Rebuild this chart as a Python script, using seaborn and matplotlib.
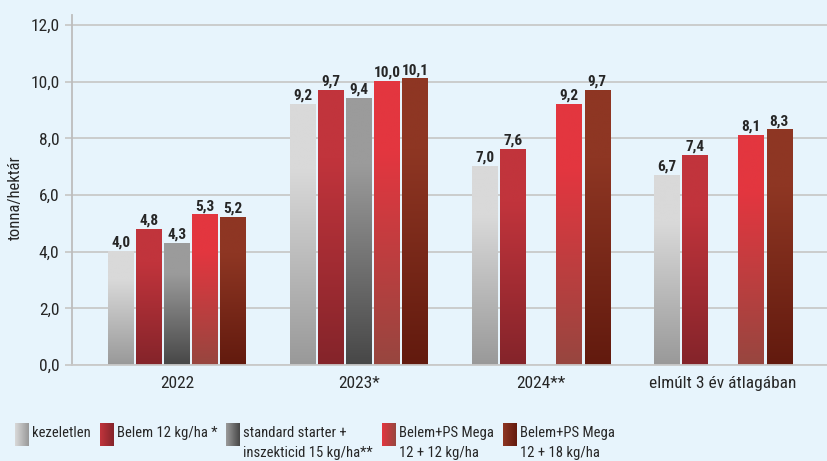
import numpy as np
import pandas as pd
import seaborn as sns
import matplotlib.pyplot as plt
from matplotlib import font_manager as fm
from matplotlib.colors import LinearSegmentedColormap, to_rgb

# ---------------- data ----------------
groups = ["2022", "2023*", "2024**", "elmúlt 3 év átlagában"]
series = ["kezeletlen", "Belem 12 kg/ha *", "standard starter +\ninszekticid 15 kg/ha**",
          "Belem+PS Mega\n12 + 12 kg/ha", "Belem+PS Mega\n12 + 18 kg/ha"]
kezeletlen = [4.0, 9.2, 7.0, 6.7]
belem_12 = [4.8, 9.7, 7.6, 7.4]
standard_starter = [4.3, 9.4, np.nan, np.nan]
belem_ps_12 = [5.3, 10.0, 9.2, 8.1]
belem_ps_18 = [5.2, 10.1, 9.7, 8.3]
y_ticks = [0, 2, 4, 6, 8, 10, 12]
y_label = "tonna/hektár"

# ---------------- style ----------------
top_colors = ["#d9d9d9", "#c1343c", "#9b9b9b", "#e3363f", "#8e3623"]
bottom_colors = ["#999999", "#84242a", "#474747", "#97463f", "#621a0e"]
BG = "#e7f4fc"
TXT = "#262626"
GRID = "#c9c9c9"

sns.set_theme(style="white")
names = {f.name for f in fm.fontManager.ttflist}
FAM = 'Roboto Condensed' if 'Roboto Condensed' in names else 'Liberation Sans'
plt.rcParams['font.family'] = [FAM, 'DejaVu Sans']

values = [kezeletlen, belem_12, standard_starter, belem_ps_12, belem_ps_18]
rows = []
for s, vals in zip(series, values):
    for g, v in zip(groups, vals):
        rows.append({"group": g, "series": s, "value": v})
df = pd.DataFrame(rows)

W, H = 827, 461
fig = plt.figure(figsize=(W / 100, H / 100), dpi=100, facecolor=BG)
ax = fig.add_axes([72 / W, 1 - 365 / H, 1 - 72 / W, (365 - 15) / H])
ax.set_facecolor(BG)

sns.barplot(data=df, x="group", y="value", hue="series", order=groups, hue_order=series,
            palette=top_colors, saturation=1, width=0.77, gap=0.1, errorbar=None,
            legend=False, ax=ax)

ymax = 12 + 10 / 28.3
tops_rgb = [np.array(to_rgb(c)) for c in top_colors]
vgrad = np.linspace(0, 1, 256).reshape(-1, 1)
for p in list(ax.patches):
    h = p.get_height()
    if not np.isfinite(h) or h <= 0:
        continue
    fc = np.array(p.get_facecolor()[:3])
    i = int(np.argmin([np.sum((fc - c) ** 2) for c in tops_rgb]))
    cmap = LinearSegmentedColormap.from_list(
        f"v{i}", [(0, bottom_colors[i]), (0.75, top_colors[i]), (1, top_colors[i])])
    x0, w = p.get_x(), p.get_width()
    ax.imshow(vgrad, extent=(x0, x0 + w, 0, h), origin='lower', aspect='auto',
              cmap=cmap, vmin=0, vmax=1, interpolation='bilinear', zorder=2)
    p.set_facecolor('none')
    p.set_edgecolor('none')
    ax.text(x0 + w / 2, h + 0.06, f"{h:.1f}".replace('.', ','), ha='center', va='bottom',
            fontsize=11, fontweight='bold', color=TXT, zorder=3)

ax.set_xlim(-0.577, 3.571)
ax.set_ylim(0, ymax)
ax.set_yticks(y_ticks)
ax.set_yticklabels([f"{t:.1f}".replace('.', ',') for t in y_ticks])
ax.yaxis.grid(True, color=GRID, lw=1.3)
ax.set_axisbelow(True)
ax.tick_params(axis='y', left=True, length=5, width=1.3, color=GRID, labelsize=12.5,
               pad=4, labelcolor=TXT)
ax.tick_params(axis='x', length=0, pad=8, labelsize=12.5, labelcolor=TXT)
for side in ['top', 'right']:
    ax.spines[side].set_visible(False)
ax.spines['left'].set_color("#bdbdbd")
ax.spines['left'].set_linewidth(1.3)
ax.spines['bottom'].set_color(GRID)
ax.spines['bottom'].set_linewidth(1.3)
ax.set_xlabel("")
ax.set_ylabel(y_label, fontsize=12, color=TXT)
ax.yaxis.set_label_coords((23 - 72) / 755, (365 - 198) / 350)

# ---------------- legend ----------------
lax = fig.add_axes([0, 0, 1, 1], zorder=5)
lax.patch.set_alpha(0)
lax.set_xlim(0, W)
lax.set_ylim(H, 0)
lax.axis('off')
renderer = fig.canvas.get_renderer()
sw_ref = [15, 95, 197, 324, 432]
hgrad = np.linspace(0, 1, 64).reshape(1, -1)
next_min = 0
for i, s in enumerate(series):
    sx = max(sw_ref[i], next_min)
    cm = LinearSegmentedColormap.from_list(f"h{i}", [top_colors[i], bottom_colors[i]])
    lax.imshow(hgrad, extent=(sx, sx + 14, 446, 423), aspect='auto', cmap=cm,
               vmin=0, vmax=1, interpolation='bilinear')
    t = lax.text(sx + 17, 426, s, ha='left', va='top', fontsize=10.5, color=TXT,
                 linespacing=1.5)
    bb = t.get_window_extent(renderer=renderer)
    next_min = bb.x1 + 9
lax.set_xlim(0, W)
lax.set_ylim(H, 0)

fig.savefig("out.png", dpi=100, facecolor=BG)
